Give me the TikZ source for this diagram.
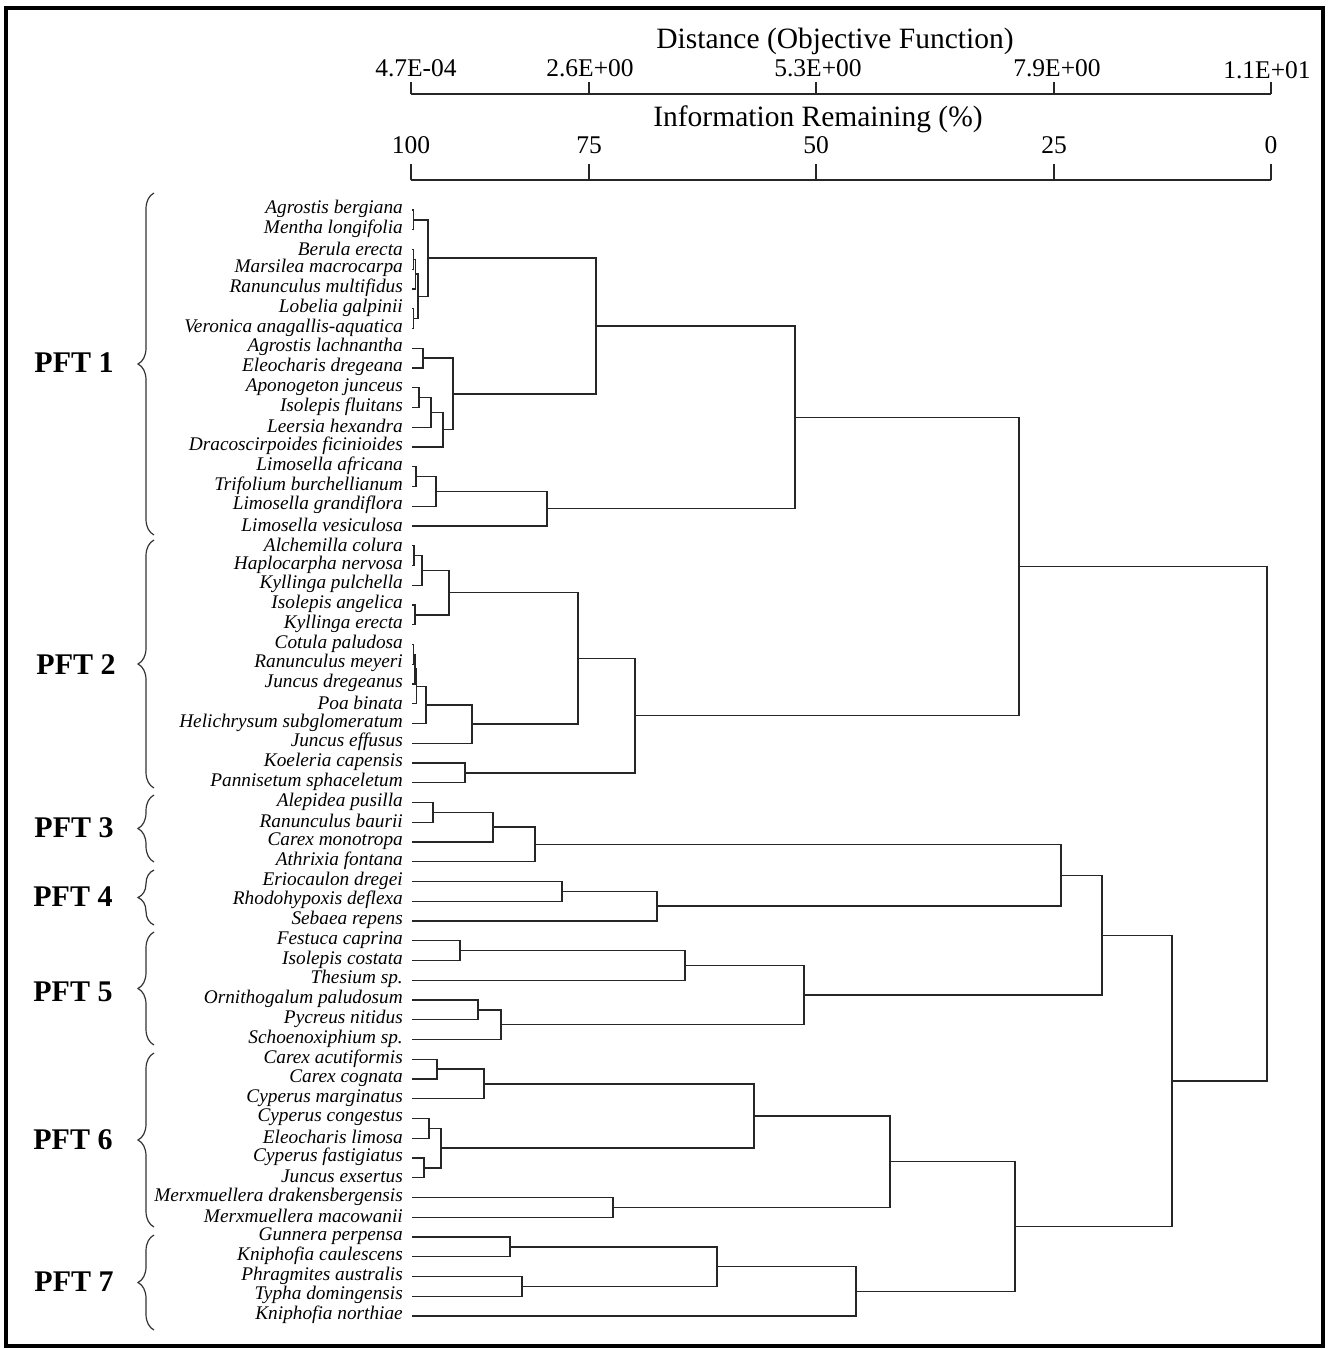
\documentclass[tikz,border=0pt]{standalone}
\usepackage{fontspec}
\setmainfont{Liberation Serif}
\usetikzlibrary{calc,decorations.pathreplacing}
\newcommand\mrg[4]{%
  \path (#4,0) coordinate (#1x);
  \draw[dend] (#2) -- (#2 -| #1x) -- (#3 -| #1x) -- (#3);
  \path ($(#2 -| #1x)!0.5!(#3 -| #1x)$) coordinate (#1);
}
\begin{document}
\begin{tikzpicture}[x=1pt,y=-1pt,
  dend/.style={line width=1.4pt,draw=black!85},
  axisline/.style={line width=1.6pt,draw=black!85},
  lab/.style={anchor=east,inner sep=0pt,font=\fontsize{19.3}{20}\selectfont\itshape},
  axlab/.style={inner sep=0pt,font=\fontsize{25.5}{27}\selectfont},
  title/.style={inner sep=0pt,font=\fontsize{29.5}{31}\selectfont},
  pft/.style={inner sep=0pt,font=\fontsize{30}{32}\selectfont\bfseries},
  bracestyle/.style={line width=1.2pt,draw=black!80,decorate,decoration={brace,amplitude=16pt}}]
\useasboundingbox (0,0) rectangle (1328,1349);
\fill[white] (0,0) rectangle (1328,1349);
\draw[line width=4.5pt] (6,8) rectangle (1323,1346);

% axes
\node[title] (t-dist) at (835,41) {Distance (Objective Function)};
\node[title] (t-info) at (818,119) {Information Remaining (\%)};
\draw[axisline] (411,94) -- (1271,94);
\foreach \x in {411,589,816,1054,1271} \draw[axisline] (\x,94) -- (\x,82);
\node[axlab] (d1) at (416,68) {4.7E-04};
\node[axlab] (d2) at (590,68) {2.6E+00};
\node[axlab] (d3) at (818,68) {5.3E+00};
\node[axlab] (d4) at (1057,68) {7.9E+00};
\node[axlab] (d5) at (1267,70) {1.1E+01};
\draw[axisline] (411,180) -- (1271,180);
\foreach \x in {411,589,816,1054,1271} \draw[axisline] (\x,180) -- (\x,164);
\node[axlab] (i1) at (411,145) {100};
\node[axlab] (i2) at (589,145) {75};
\node[axlab] (i3) at (816,145) {50};
\node[axlab] (i4) at (1054,145) {25};
\node[axlab] (i5) at (1271,145) {0};

% leaves
\foreach \nm [count=\i] in {Agrostis bergiana, Mentha longifolia, Berula erecta,
  Marsilea macrocarpa, Ranunculus multifidus, Lobelia galpinii,
  Veronica anagallis-aquatica, Agrostis lachnantha, Eleocharis dregeana,
  Aponogeton junceus, Isolepis fluitans, Leersia hexandra,
  Dracoscirpoides ficinioides, Limosella africana, Trifolium burchellianum,
  Limosella grandiflora, Limosella vesiculosa, Alchemilla colura,
  Haplocarpha nervosa, Kyllinga pulchella, Isolepis angelica, Kyllinga erecta,
  Cotula paludosa, Ranunculus meyeri, Juncus dregeanus, Poa binata,
  Helichrysum subglomeratum, Juncus effusus, Koeleria capensis,
  Pannisetum sphaceletum, Alepidea pusilla, Ranunculus baurii,
  Carex monotropa, Athrixia fontana, Eriocaulon dregei, Rhodohypoxis deflexa,
  Sebaea repens, Festuca caprina, Isolepis costata, Thesium sp.,
  Ornithogalum paludosum, Pycreus nitidus, Schoenoxiphium sp.,
  Carex acutiformis, Carex cognata, Cyperus marginatus, Cyperus congestus,
  Eleocharis limosa, Cyperus fastigiatus, Juncus exsertus,
  Merxmuellera drakensbergensis, Merxmuellera macowanii, Gunnera perpensa,
  Kniphofia caulescens, Phragmites australis, Typha domingensis,
  Kniphofia northiae}{
  \pgfmathsetmacro\yy{210+(\i-1)*19.75}
  \path (412,\yy) coordinate (L\i);
  \node[lab] (t\i) at (403,\yy-1) {\nm};
}

% PFT 1
\mrg{m1}{L1}{L2}{413.5}
\mrg{m2}{L3}{L4}{413.5}
\mrg{m3}{m2}{L5}{415.5}
\mrg{m4}{L6}{L7}{413.5}
\mrg{m5}{m3}{m4}{418}
\mrg{m6}{m1}{m5}{428}
\mrg{m7}{L8}{L9}{423}
\mrg{m8}{L10}{L11}{419}
\mrg{m9}{m8}{L12}{431}
\mrg{m10}{m9}{L13}{443}
\mrg{m11}{m7}{m10}{453}
\mrg{m12}{m6}{m11}{596}
\mrg{m13}{L14}{L15}{416}
\mrg{m14}{m13}{L16}{436}
\mrg{m15}{m14}{L17}{547}
\mrg{m16}{m12}{m15}{795}
% PFT 2
\mrg{m17}{L18}{L19}{414}
\mrg{m18}{m17}{L20}{422}
\mrg{m19}{L21}{L22}{415}
\mrg{m20}{m18}{m19}{449}
\mrg{m21}{L23}{L24}{413.5}
\mrg{m22}{m21}{L25}{415}
\mrg{m23}{m22}{L26}{416.5}
\mrg{m24}{m23}{L27}{426}
\mrg{m25}{m24}{L28}{472}
\mrg{m26}{m20}{m25}{578}
\mrg{m27}{L29}{L30}{465}
\mrg{m28}{m26}{m27}{635}
\mrg{m29}{m16}{m28}{1019}
% PFT 3
\mrg{m30}{L31}{L32}{433}
\mrg{m31}{m30}{L33}{493}
\mrg{m32}{m31}{L34}{535}
% PFT 4
\mrg{m33}{L35}{L36}{562}
\mrg{m34}{m33}{L37}{657}
\mrg{m35}{m32}{m34}{1061}
% PFT 5
\mrg{m36}{L38}{L39}{460}
\mrg{m37}{m36}{L40}{685}
\mrg{m38}{L41}{L42}{478}
\mrg{m39}{m38}{L43}{501}
\mrg{m40}{m37}{m39}{804}
\mrg{m41}{m35}{m40}{1102}
% PFT 6
\mrg{m42}{L44}{L45}{437}
\mrg{m43}{m42}{L46}{484}
\mrg{m44}{L47}{L48}{429}
\mrg{m45}{L49}{L50}{424}
\mrg{m46}{m44}{m45}{441}
\mrg{m47}{m43}{m46}{754}
\mrg{m48}{L51}{L52}{613}
\mrg{m49}{m47}{m48}{890}
% PFT 7
\mrg{m50}{L53}{L54}{510}
\mrg{m51}{L55}{L56}{522}
\mrg{m52}{m50}{m51}{717}
\mrg{m53}{m52}{L57}{856}
\mrg{m54}{m49}{m53}{1015}
\mrg{m55}{m41}{m54}{1172}
\mrg{root}{m29}{m55}{1267}

% braces and PFT labels
\draw[bracestyle] (154,535) -- (154,193);
\draw[bracestyle] (154,788) -- (154,540);
\draw[bracestyle] (154,862) -- (154,795);
\draw[bracestyle] (154,925) -- (154,870);
\draw[bracestyle] (154,1045) -- (154,932);
\draw[bracestyle] (154,1227) -- (154,1053);
\draw[bracestyle] (154,1330) -- (154,1235);
\node[pft] (p1) at (74,363) {PFT 1};
\node[pft] (p2) at (76,665) {PFT 2};
\node[pft] (p3) at (74,828) {PFT 3};
\node[pft] (p4) at (73,897) {PFT 4};
\node[pft] (p5) at (73,992) {PFT 5};
\node[pft] (p6) at (73,1140) {PFT 6};
\node[pft] (p7) at (74,1282) {PFT 7};
\end{tikzpicture}
\end{document}
